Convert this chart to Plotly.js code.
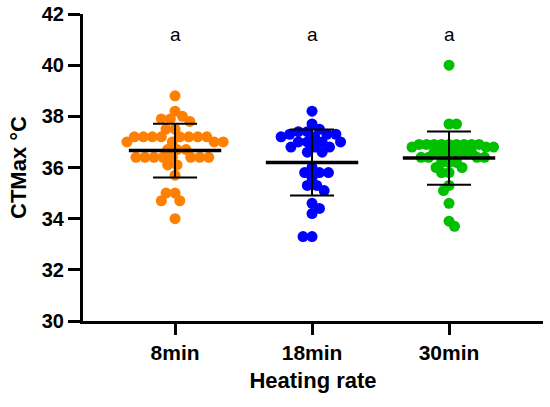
<!DOCTYPE html>
<html>
<head>
<meta charset="utf-8">
<script src="https://cdn.plot.ly/plotly-3.0.1.min.js"></script>
<style>html,body{margin:0;padding:0;background:#fff;}#chart{width:550px;height:407px;}</style>
</head>
<body>
<div id="chart"></div>
<script>
// ---- data ----
const categories = ["8min", "18min", "30min"];
const colors = ["#FF8000", "#0000FF", "#00C000"];

const values8 = [38.8, 38.2, 38.0, 37.9, 37.9, 37.8, 37.5, 37.5,
  37.2, 37.2, 37.2, 37.2, 37.2, 37.2, 37.2, 37.2,
  37.0, 37.0, 37.0, 37.0, 36.7, 36.7, 36.7,
  36.4, 36.4, 36.4, 36.4, 36.4, 36.4, 36.4, 36.4,
  36.1, 36.1, 35.7, 35.0, 35.0, 34.7, 34.7, 34.0];

const values18 = [38.2, 37.7, 37.5, 37.4, 37.4, 37.3, 37.3, 37.3, 37.2, 37.2,
  37.0, 37.0, 37.0, 37.0, 36.8, 36.8, 36.8, 36.6, 36.6,
  36.0, 35.8, 35.8, 35.8, 35.6, 35.3, 35.3, 35.1,
  34.6, 34.4, 34.2, 33.3, 33.3];

const values30 = [40.0, 37.7, 37.7,
  36.9, 36.9, 36.9, 36.9, 36.9, 36.9, 36.9, 36.9, 36.9,
  36.8, 36.8, 36.8, 36.6, 36.6, 36.6, 36.6, 36.6, 36.6,
  36.4, 36.4, 36.4, 36.4, 36.2, 36.2, 36.2, 36.0, 36.0,
  35.8, 35.8, 35.3, 35.1, 34.6, 33.9, 33.7];

const means = [36.66, 36.2, 36.37];
const sds = [1.05, 1.29, 1.04];
const letters = ["a", "a", "a"];

// ---- layout constants ----
const W = 550, H = 407;
const M = {l: 83, r: 7, t: 14, b: 86};
const xRange = [-0.672, 2.686];
const yRange = [30, 42];
const pxX = (W - M.l - M.r) / (xRange[1] - xRange[0]);
const pxY = (H - M.t - M.b) / (yRange[1] - yRange[0]);

// beeswarm placement computed from values
function swarm(vals, center, diam) {
  const order = vals.map((v, i) => i).sort((a, b) => vals[b] - vals[a]);
  const placed = [];
  const xs = new Array(vals.length);
  let flip = 1;
  order.forEach(i => {
    const y = vals[i] * pxY;
    const near = placed.filter(p => Math.abs(p.y - y) < diam);
    const cands = [0];
    near.forEach(p => {
      const dx = Math.sqrt(diam * diam - (p.y - y) * (p.y - y));
      cands.push(p.x + dx, p.x - dx);
    });
    cands.sort((a, b) => Math.abs(a) - Math.abs(b) || (flip * (b - a)));
    const x = cands.find(c => near.every(p => (p.x - c) * (p.x - c) + (p.y - y) * (p.y - y) >= diam * diam - 1e-6));
    flip = -flip;
    placed.push({x: x, y: y});
    xs[i] = center + x / pxX;
  });
  return xs;
}

const groups = [values8, values18, values30];
const diams = [9, 9, 7.5];
const traces = groups.map((vals, k) => ({
  type: "scatter",
  mode: "markers",
  x: swarm(vals, k, diams[k]),
  y: vals,
  marker: {color: colors[k], size: 11, line: {width: 0}},
  hoverinfo: "y",
  showlegend: false
}));

traces.push({
  type: "scatter",
  mode: "markers",
  x: [0, 1, 2],
  y: means,
  marker: {symbol: "line-ew", size: 66, color: "black", line: {color: "black", width: 3.5}},
  error_y: {type: "data", array: sds, visible: true, color: "black", thickness: 2, width: 22},
  showlegend: false,
  hoverinfo: "y"
});

const fontFam = "Arial, 'Liberation Sans', sans-serif";

const layout = {
  width: W, height: H,
  margin: M,
  paper_bgcolor: "#fff", plot_bgcolor: "#fff",
  showlegend: false,
  xaxis: {
    range: xRange,
    tickmode: "array", tickvals: [0, 1, 2], ticktext: categories,
    ticks: "outside", ticklen: 11, tickwidth: 3, tickcolor: "black",
    showline: true, linewidth: 3, linecolor: "black",
    showgrid: false, zeroline: false,
    tickfont: {family: fontFam, size: 21, color: "black", weight: 700},
    title: {text: "Heating rate", font: {family: fontFam, size: 22, color: "black", weight: 700}, standoff: 10}
  },
  yaxis: {
    range: yRange,
    tickmode: "array", tickvals: [30, 32, 34, 36, 38, 40, 42],
    ticks: "outside", ticklen: 12, tickwidth: 3, tickcolor: "black",
    showline: true, linewidth: 3, linecolor: "black",
    showgrid: false, zeroline: false,
    tickfont: {family: fontFam, size: 20, color: "black", weight: 700},
    title: {text: "CTMax °C", font: {family: fontFam, size: 22, color: "black", weight: 700}, standoff: 10}
  },
  annotations: letters.map((t, k) => ({
    x: k, y: 41.2, xref: "x", yref: "y", text: t, showarrow: false,
    font: {family: fontFam, size: 19, color: "black"}
  }))
};

Plotly.newPlot("chart", traces, layout, {displayModeBar: false, staticPlot: true});
</script>
</body>
</html>
